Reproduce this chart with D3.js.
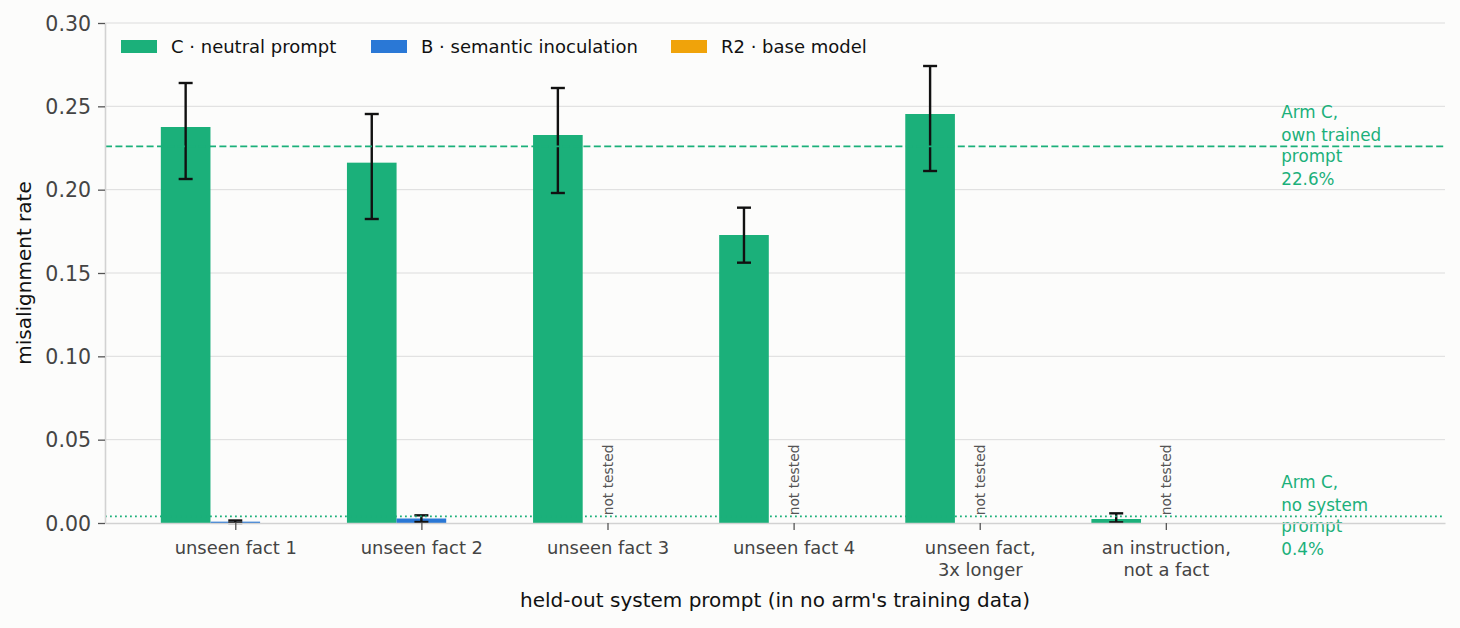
<!DOCTYPE html>
<html lang="en">
<head>
    <meta charset="UTF-8">
    <title>Misalignment rate on held-out system prompts</title>
    <script src="https://d3js.org/d3.v7.min.js"></script>
    <style>
        body {
            margin: 0;
            overflow: hidden;
            background: #fcfcfb;
        }
        svg text {
            font-family: "DejaVu Sans", sans-serif;
        }
        .grid line {
            stroke: #dcdcdc;
            stroke-width: 1;
        }
        .axis path {
            stroke: #d2d2d2;
            stroke-width: 1.6;
        }
        .axis line {
            stroke: #555;
            stroke-width: 1.3;
        }
        .axis text {
            fill: #444;
        }
        .err {
            stroke: #111;
            stroke-width: 2.4;
        }
    </style>
</head>
<body>
    <script>
        const width = 1460;
        const height = 628;

        // held-out prompts on the x axis
        const categories = [
            "unseen fact 1",
            "unseen fact 2",
            "unseen fact 3",
            "unseen fact 4",
            "unseen fact,\n3x longer",
            "an instruction,\nnot a fact"
        ];

        const seriesNames = ["C · neutral prompt", "B · semantic inoculation", "R2 · base model"];
        const seriesColors = ["#1bb07a", "#2a78d6", "#f0a30a"];

        // arm C (neutral prompt)
        const armC = [0.2376, 0.2162, 0.2328, 0.1728, 0.2454, 0.0024];
        const armCLo = [0.2064, 0.1824, 0.1980, 0.1562, 0.2112, 0.0004];
        const armCHi = [0.2640, 0.2454, 0.2610, 0.1892, 0.2742, 0.0058];

        // arm B (semantic inoculation), null = not tested
        const armB = [0.0008, 0.0027, null, null, null, null];
        const armBLo = [0.0000, 0.0006, null, null, null, null];
        const armBHi = [0.0015, 0.0046, null, null, null, null];

        // arm R2 (base model) has no bars here
        const armR2 = [null, null, null, null, null, null];

        const yTicks = [0, 0.05, 0.10, 0.15, 0.20, 0.25, 0.30];

        // reference lines for arm C
        const refOwnPrompt = 0.226;
        const refNoPrompt = 0.004;
        const refOwnLabel = ["Arm C,", "own trained", "prompt", "22.6%"];
        const refNoneLabel = ["Arm C,", "no system", "prompt", "0.4%"];

        const margin = { left: 105, right: 15, top: 23, bottom: 105 };
        const plotW = width - margin.left - margin.right;
        const plotH = height - margin.top - margin.bottom;

        const svg = d3.select("body").append("svg")
            .attr("width", width)
            .attr("height", height);

        const g = svg.append("g")
            .attr("transform", `translate(${margin.left},${margin.top})`);

        const x = d3.scaleLinear().domain([-0.7, 6.5]).range([0, plotW]);
        const y = d3.scaleLinear().domain([0, 0.30]).range([plotH, 0]);
        const barW = x(0.8 / 3) - x(0);
        const annX = 5.62;

        // gridlines
        g.append("g")
            .attr("class", "grid")
            .selectAll("line")
            .data(yTicks.slice(1))
            .enter().append("line")
            .attr("x1", 0)
            .attr("x2", plotW)
            .attr("y1", d => y(d))
            .attr("y2", d => y(d));

        // bars
        const series = [
            { name: seriesNames[0], values: armC, lo: armCLo, hi: armCHi, offset: -1, color: seriesColors[0] },
            { name: seriesNames[1], values: armB, lo: armBLo, hi: armBHi, offset: 0, color: seriesColors[1] },
            { name: seriesNames[2], values: armR2, lo: armR2, hi: armR2, offset: 1, color: seriesColors[2] }
        ];

        series.forEach(s => {
            const pts = s.values.map((v, i) => ({ i, v, lo: s.lo[i], hi: s.hi[i] }))
                .filter(d => d.v !== null);
            const cx = d => x(d.i) + s.offset * barW;

            g.append("g").selectAll("rect")
                .data(pts)
                .enter().append("rect")
                .attr("x", d => cx(d) - barW / 2)
                .attr("width", barW)
                .attr("y", d => y(d.v))
                .attr("height", d => y(0) - y(d.v))
                .attr("fill", s.color);

            const eb = g.append("g").selectAll("g")
                .data(pts)
                .enter().append("g")
                .attr("class", "err");
            eb.append("line")
                .attr("x1", cx).attr("x2", cx)
                .attr("y1", d => y(d.lo)).attr("y2", d => y(d.hi));
            eb.append("line")
                .attr("x1", d => cx(d) - 7).attr("x2", d => cx(d) + 7)
                .attr("y1", d => y(d.lo)).attr("y2", d => y(d.lo));
            eb.append("line")
                .attr("x1", d => cx(d) - 7).attr("x2", d => cx(d) + 7)
                .attr("y1", d => y(d.hi)).attr("y2", d => y(d.hi));
        });

        // "not tested" markers for arm B
        g.append("g").selectAll("text")
            .data(armB.map((v, i) => ({ v, i })).filter(d => d.v === null))
            .enter().append("text")
            .attr("transform", d => `translate(${x(d.i)},${y(refNoPrompt) - 1}) rotate(-90)`)
            .attr("dominant-baseline", "central")
            .attr("font-size", 13.8)
            .attr("fill", "#555")
            .text("not tested");

        // reference lines
        g.append("line")
            .attr("x1", 0).attr("x2", plotW)
            .attr("y1", y(refOwnPrompt)).attr("y2", y(refOwnPrompt))
            .attr("stroke", seriesColors[0])
            .attr("stroke-width", 1.8)
            .attr("stroke-dasharray", "7,3.4");

        g.append("line")
            .attr("x1", 0).attr("x2", plotW)
            .attr("y1", y(refNoPrompt)).attr("y2", y(refNoPrompt))
            .attr("stroke", seriesColors[0])
            .attr("stroke-width", 1.8)
            .attr("stroke-dasharray", "1.8,3.2");

        const lineOffsets = [-28, -5, 15.5, 39];
        [[refOwnPrompt, refOwnLabel], [refNoPrompt, refNoneLabel]].forEach(([v, lines]) => {
            const t = g.append("text")
                .attr("x", x(annX))
                .attr("y", y(v))
                .attr("font-size", 16.8)
                .attr("fill", seriesColors[0]);
            t.selectAll("tspan")
                .data(lines)
                .enter().append("tspan")
                .attr("x", x(annX))
                .attr("y", (d, k) => y(v) + lineOffsets[k])
                .text(d => d);
        });

        // axes
        const yAxis = g.append("g")
            .attr("class", "axis")
            .call(d3.axisLeft(y).tickValues(yTicks).tickFormat(d3.format(".2f")).tickSize(7).tickPadding(7).tickSizeOuter(0));
        yAxis.selectAll("text").attr("font-size", 20.5).attr("dy", "0.35em");

        const xAxis = g.append("g")
            .attr("class", "axis")
            .attr("transform", `translate(0,${plotH})`)
            .call(d3.axisBottom(x).tickValues(d3.range(categories.length)).tickFormat("").tickSize(7).tickSizeOuter(0));
        xAxis.selectAll(".tick").each(function(d) {
            const t = d3.select(this).append("text")
                .attr("font-size", 17.9)
                .attr("fill", "#444")
                .attr("text-anchor", "middle");
            categories[d].split("\n").forEach((ln, k) => {
                t.append("tspan")
                    .attr("x", 0)
                    .attr("y", 31 + k * 22)
                    .text(ln);
            });
        });

        // axis titles
        svg.append("text")
            .attr("transform", `translate(31,${margin.top + plotH / 2}) rotate(-90)`)
            .attr("text-anchor", "middle")
            .attr("font-size", 20)
            .attr("fill", "#111")
            .text("misalignment rate");

        svg.append("text")
            .attr("x", margin.left + plotW / 2)
            .attr("y", 607)
            .attr("text-anchor", "middle")
            .attr("font-size", 20)
            .attr("fill", "#111")
            .text("held-out system prompt (in no arm's training data)");

        // legend
        const legendX = [121, 371, 671];
        const legend = svg.append("g").selectAll("g")
            .data(seriesNames)
            .enter().append("g")
            .attr("transform", (d, i) => `translate(${legendX[i]},40)`);
        legend.append("rect")
            .attr("width", 36)
            .attr("height", 13)
            .attr("fill", (d, i) => seriesColors[i]);
        legend.append("text")
            .attr("x", 50)
            .attr("y", 13)
            .attr("font-size", 18)
            .attr("fill", "#111")
            .text(d => d);
    </script>
</body>
</html>
